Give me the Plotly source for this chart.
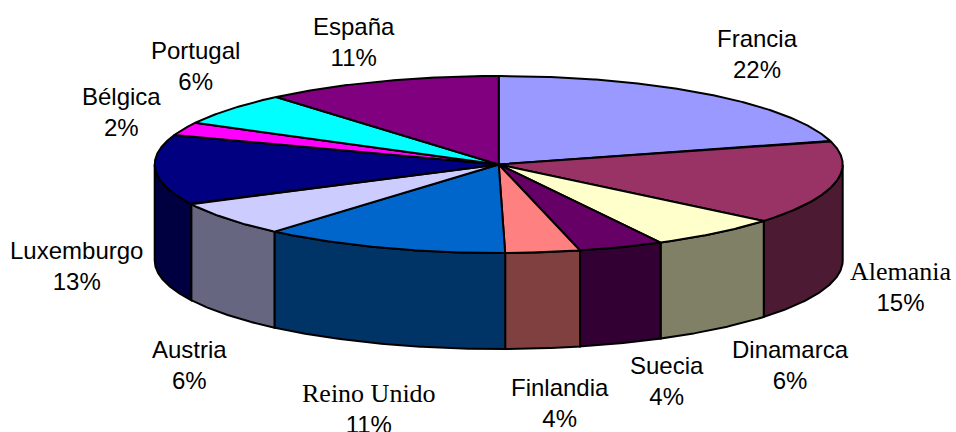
import numpy as np
import plotly.graph_objects as go

categories = ["Francia", "Alemania", "Dinamarca", "Suecia", "Finlandia", "Reino Unido",
              "Austria", "Luxemburgo", "Bélgica", "Portugal", "España"]
values = [20.7, 15.3, 6.2, 4.0, 3.5, 11.6, 6.3, 12.8, 2.4, 6.0, 11.2]
percent_labels = ["22%", "15%", "6%", "4%", "4%", "11%", "6%", "13%", "2%", "6%", "11%"]
top_colors = ["#9999FF", "#993366", "#FFFFCC", "#660066", "#FF8080", "#0066CC",
              "#CCCCFF", "#000080", "#FF00FF", "#00FFFF", "#800080"]
wall_colors = ["#4D1A33", "#4D1A33", "#808066", "#330033", "#804040", "#003366",
               "#666680", "#000040", "#000040", "#000040", "#000040"]
label_x = [757, 901, 790, 667, 560, 369, 189, 76, 121, 195, 354]
label_y = [54, 286, 365, 381, 403, 408, 365, 266, 112, 66, 42]
name_fonts = ["Liberation Sans", "Liberation Serif", "Liberation Sans", "Liberation Sans",
              "Liberation Sans", "Liberation Serif", "Liberation Sans", "Liberation Sans",
              "Liberation Sans", "Liberation Sans", "Liberation Sans"]
name_sizes = [24, 26, 24, 24, 24, 26, 24, 24, 24, 24, 24]

CX, CY, RX, RY, DEPTH = 498.7, 164.5, 344.0, 88.5, 96.0
LINE = dict(color="black", width=2)


def rim(a0, a1):
    t = np.radians(np.linspace(a0, a1, max(int(abs(a1 - a0)) * 3, 2) + 1))
    return CX + RX * np.sin(t), CY - RY * np.cos(t)


edges = np.concatenate([[0], np.cumsum(values)]) / np.sum(values) * 360
fig = go.Figure()

# front walls
for i in range(len(values)):
    a0, a1 = max(edges[i], 90), min(edges[i + 1], 270)
    if a1 <= a0:
        continue
    x, y = rim(a0, a1)
    fig.add_trace(go.Scatter(
        x=np.r_[x, x[::-1], x[0]], y=np.r_[y, y[::-1] + DEPTH, y[0]],
        mode="lines", fill="toself", fillcolor=wall_colors[i], line=LINE,
        hoverinfo="skip", showlegend=False))

# top face
for i in range(len(values)):
    x, y = rim(edges[i], edges[i + 1])
    fig.add_trace(go.Scatter(
        x=np.r_[CX, x, CX], y=np.r_[CY, y, CY],
        mode="lines", fill="toself", fillcolor=top_colors[i], line=LINE,
        name=categories[i], showlegend=False))

for c, p, lx, ly, f, s in zip(categories, percent_labels, label_x, label_y, name_fonts, name_sizes):
    name = f'<span style="font-family:\'{f}\';font-size:{s}px">{c}</span>'
    fig.add_annotation(x=lx, y=ly, text=f"{name}<br>{p}", showarrow=False, align="center",
                       font=dict(family="Liberation Sans", size=24, color="black"))

fig.update_layout(
    width=956, height=432, margin=dict(l=0, r=0, t=0, b=0),
    paper_bgcolor="white", plot_bgcolor="white",
    xaxis=dict(range=[0, 956], visible=False, fixedrange=True),
    yaxis=dict(range=[432, 0], visible=False, fixedrange=True),
)
fig.write_html("out.html", config={"displayModeBar": False},
               post_script="document.body.style.margin='0';document.body.style.overflow='hidden';")
